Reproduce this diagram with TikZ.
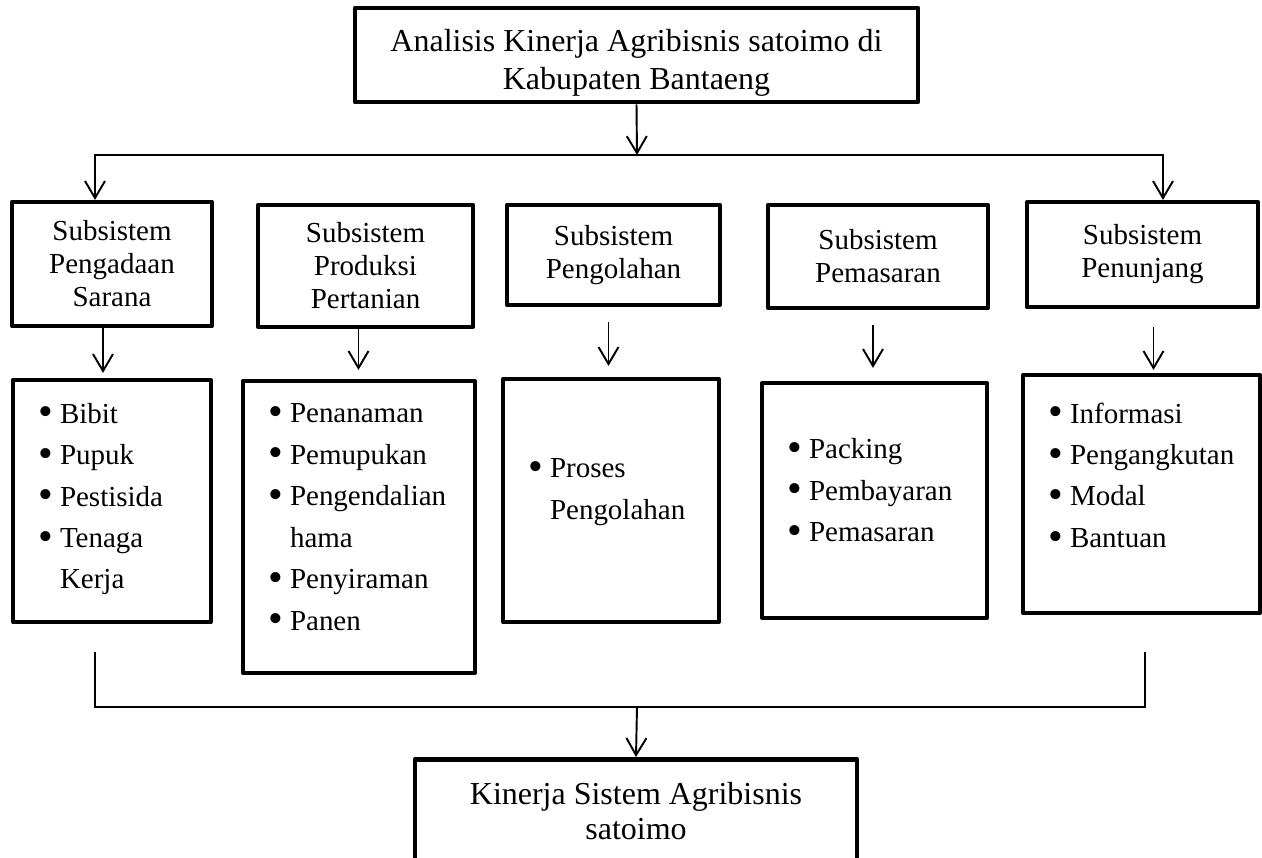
\documentclass[tikz,border=0pt]{standalone}
\usepackage{fontspec}
\setmainfont{Liberation Serif}
\usetikzlibrary{arrows.meta, positioning, calc}

\newcommand{\itm}[1]{\makebox[0.44cm][l]{\raisebox{-0.09em}{\scalebox{1.45}{\textbullet}}}\mbox{#1}}
\newcommand{\itc}[1]{\hspace*{0.44cm}\mbox{#1}}
\newcommand{\vgap}[1]{\rule[-#1]{0pt}{#1}}

\begin{document}
\begin{tikzpicture}[x=0.02cm,y=-0.02cm,
  hd/.style={rectangle,draw,line width=2.6pt,line join=round,align=center,inner sep=0pt,font=\fontsize{18.2pt}{21.6pt}\selectfont},
  sb/.style={rectangle,draw,line width=2.4pt,line join=round,align=center,inner sep=0pt,font=\fontsize{16.5pt}{18.8pt}\selectfont},
  ls/.style={rectangle,draw,line width=2.4pt,line join=round,align=left,inner xsep=0.5cm,inner ysep=0pt,font=\fontsize{16.5pt}{23.6pt}\selectfont},
  arr/.style={-{Straight Barb[length=0.34cm,width=0.4cm]},line width=1.1pt},
  ln/.style={line width=1.1pt}
]
  \useasboundingbox (0,0) rectangle (1262,858);
  \clip (0,0) rectangle (1262,858);

  \node[hd,minimum width=11.26cm,minimum height=1.88cm](ana) at (636.5,55) {\rule{0pt}{0.76cm}Analisis Kinerja Agribisnis satoimo di\\Kabupaten Bantaeng};

  \node[sb,minimum width=4cm,minimum height=2.48cm](s1) at (112,264) {Subsistem\\Pengadaan\\Sarana};
  \node[sb,minimum width=4.3cm,minimum height=2.44cm](s2) at (365.5,266) {Subsistem\\Produksi\\Pertanian};
  \node[sb,minimum width=4.26cm,minimum height=2cm](s3) at (613.5,255) {Subsistem\\Pengolahan};
  \node[sb,minimum width=4.4cm,minimum height=2.06cm](s4) at (878,256.5) {Subsistem\\Pemasaran};
  \node[sb,minimum width=4.62cm,minimum height=2.1cm](s5) at (1142.5,254.5) {Subsistem\\Penunjang};

  \node[ls,text width=2.96cm,minimum height=4.84cm](l1) at (112,501) {\itm{Bibit}\\\itm{Pupuk}\\\itm{Pestisida}\\\itm{Tenaga}\\\itc{Kerja}\vgap{0.2cm}};
  \node[ls,text width=3.64cm,minimum height=5.84cm](l2) at (359,527) {\itm{Penanaman}\\\itm{Pemupukan}\\\itm{Pengendalian}\\\itc{hama}\\\itm{Penyiraman}\\\itm{Panen}\vgap{0.4cm}};
  \node[ls,text width=3.32cm,minimum height=4.86cm](l3) at (611,500.5) {\itm{Proses}\\\itc{Pengolahan}\vgap{0.46cm}};
  \node[ls,text width=3.5cm,minimum height=4.7cm](l4) at (874.5,500.5) {\itm{Packing}\\\itm{Pembayaran}\\\itm{Pemasaran}\vgap{0.42cm}};
  \node[ls,text width=3.74cm,minimum height=4.76cm](l5) at (1141.5,494) {\itm{Informasi}\\\itm{Pengangkutan}\\\itm{Modal}\\\itm{Bantuan}\vgap{0.76cm}};

  \node[hd,anchor=north,minimum width=8.84cm,inner ysep=0.46cm,font=\fontsize{18.2pt}{19.9pt}\selectfont](kin) at (636,757) {Kinerja Sistem Agribisnis\\satoimo\vgap{2cm}};

  % top split
  \coordinate (split) at (637,155);
  \draw[arr] (ana.south) -- (split);
  \draw[arr] (split) -| ($(s1.north)+(-17,0)$);
  \draw[arr] (split) -| ($(s5.north)+(20.5,0)$);

  % subsystem to list
  \foreach \i/\dx/\sa/\sb in {1/-9/0/5, 2/-7/0/9, 3/-5/15/11, 4/-5/15/13, 5/11/18/3}
    \draw[arr] ($(s\i.south)+(\dx,\sa)$) -- ($(s\i.south |- l\i.north)+(\dx,-\sb)$);

  % join at bottom
  \coordinate (jm) at (637,707);
  \draw[ln] ($(l1.south)+(-17,28)$) |- (jm) -| ($(l5.south)+(3.5,37)$);
  \draw[arr] (jm) -- (kin.north);
\end{tikzpicture}
\end{document}
